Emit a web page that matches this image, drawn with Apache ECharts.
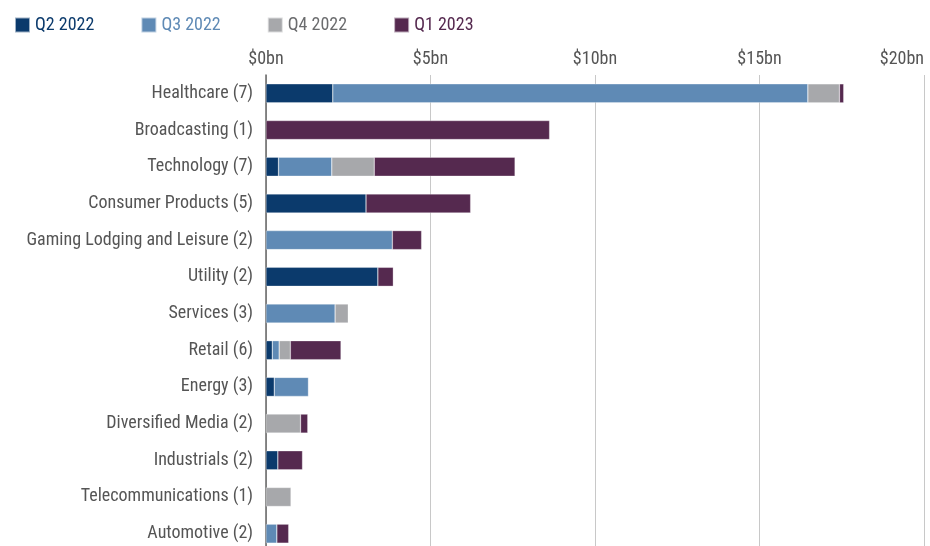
<!DOCTYPE html>
<html><head><meta charset="utf-8">
<script src="https://cdn.jsdelivr.net/npm/echarts@6/dist/echarts.min.js"></script>
<style>html,body{margin:0;padding:0;background:#fff}#c{width:930px;height:546px}</style>
</head><body><div id="c"></div>
<script>
const categories = ["Healthcare (7)","Broadcasting (1)","Technology (7)","Consumer Products (5)","Gaming Lodging and Leisure (2)","Utility (2)","Services (3)","Retail (6)","Energy (3)","Diversified Media (2)","Industrials (2)","Telecommunications (1)","Automotive (2)"];
const q2_2022 = [2.03,0,0.38,3.04,0,3.40,0,0.19,0.25,0,0.36,0,0];
const q3_2022 = [14.44,0,1.62,0,3.84,0,2.10,0.21,1.04,0,0,0,0.33];
const q4_2022 = [0.96,0,1.29,0,0,0,0.40,0.34,0,1.05,0,0.76,0];
const q1_2023 = [0.13,8.62,4.28,3.18,0.89,0.47,0,1.54,0,0.22,0.75,0,0.36];
const seriesNames = ["Q2 2022","Q3 2022","Q4 2022","Q1 2023"];
const seriesColors = ["#0B3A6C","#5F8AB5","#A7A8AB","#55294F"];
const legendTextColors = ["#0B3A6C","#5F8AB5","#6B6C6E","#55294F"];
const tickValues = [0,5,10,15,20];

const FONT = '"Liberation Sans Narrow","Roboto Condensed","Liberation Sans",sans-serif';
const chart = echarts.init(document.getElementById('c'));
const data = [q2_2022,q3_2022,q4_2022,q1_2023];
chart.setOption({
  animation:false,
  textStyle:{fontFamily:FONT},
  legend:{
    left:14, top:16, padding:0, itemWidth:15, itemHeight:15, itemGap:46,
    icon:'rect',
    data: seriesNames.map((n,i)=>({name:n, textStyle:{color:legendTextColors[i]}})),
    textStyle:{fontFamily:FONT, fontSize:18}
  },
  grid:{left:266, right:6, top:75, height:477, containLabel:false, outerBoundsMode:'none'},
  xAxis:{
    type:'value', position:'top', min:tickValues[0], max:tickValues[tickValues.length-1], interval:5,
    axisLine:{show:false}, axisTick:{show:false},
    splitLine:{lineStyle:{color:'#c8c8c8', width:1}},
    axisLabel:{formatter:v=>'$'+v+'bn', color:'#555', fontSize:18, fontFamily:FONT, margin:7, alignMaxLabel:'right'}
  },
  yAxis:{
    type:'category', inverse:true, data:categories,
    axisLine:{show:true, lineStyle:{color:'#666', width:1.5}}, axisTick:{show:false},
    axisLabel:{color:'#555', fontSize:18, fontFamily:FONT, margin:13}
  },
  series: seriesNames.map((n,i)=>({
    name:n, type:'bar', stack:'s', barWidth:19,
    itemStyle:{color:seriesColors[i], borderColor:'rgba(255,255,255,0.6)', borderWidth:0.5},
    data:data[i].map(v=>v===0?null:v)
  }))
});
</script></body></html>
